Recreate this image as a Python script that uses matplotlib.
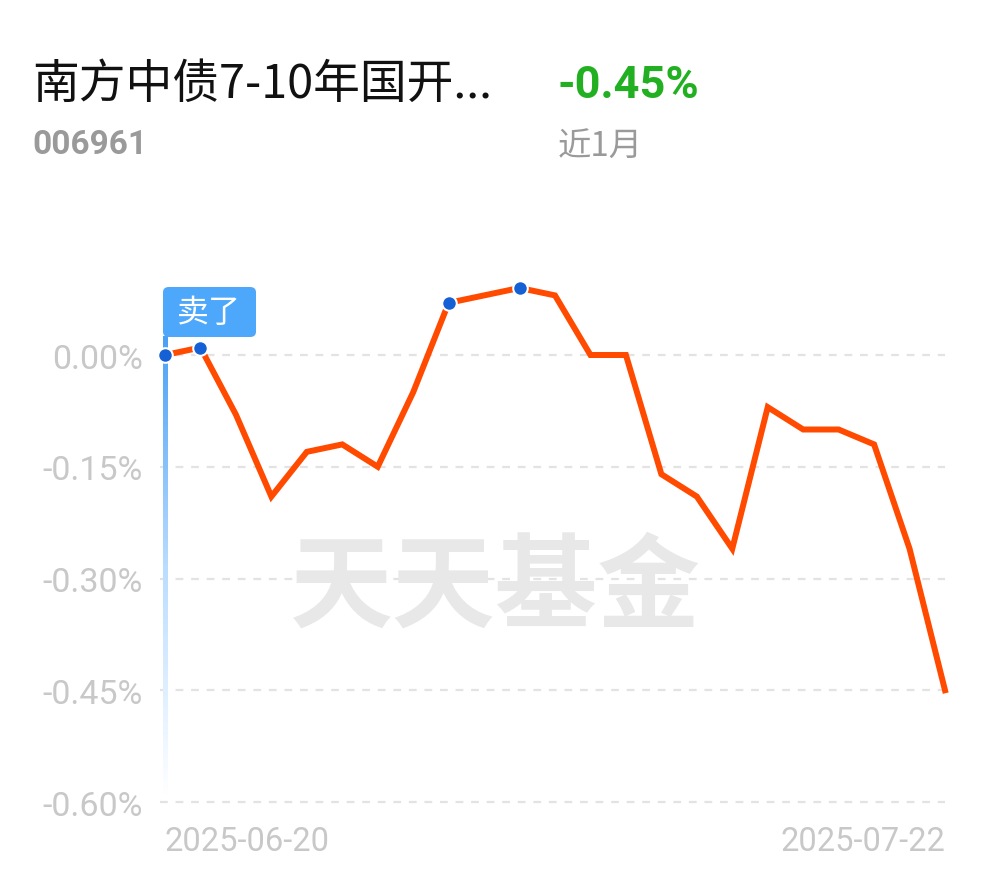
import numpy as np
import matplotlib.pyplot as plt
from matplotlib.patches import FancyBboxPatch
from matplotlib.colors import LinearSegmentedColormap

plt.rcParams['font.family'] = ['Roboto', 'Noto Sans CJK SC', 'DejaVu Sans']

dates = ['2025-06-20', '2025-06-23', '2025-06-24', '2025-06-25', '2025-06-26',
         '2025-06-27', '2025-06-30', '2025-07-01', '2025-07-02', '2025-07-03',
         '2025-07-04', '2025-07-07', '2025-07-08', '2025-07-09', '2025-07-10',
         '2025-07-11', '2025-07-14', '2025-07-15', '2025-07-16', '2025-07-17',
         '2025-07-18', '2025-07-21', '2025-07-22']
returns = [0.00, 0.01, -0.08, -0.19, -0.13, -0.12, -0.15, -0.05, 0.07, 0.08,
           0.09, 0.08, 0.00, 0.00, -0.16, -0.19, -0.26, -0.07, -0.10, -0.10,
           -0.12, -0.26, -0.45]
dot_idx = [0, 1, 8, 10]
yticks = [0.00, -0.15, -0.30, -0.45, -0.60]
fund_name = '南方中债7-10年国开...'
fund_code = '006961'
period_ret = '-0.45%'
period = '近1月'
sell_idx = 0

W, H = 990, 878
fig = plt.figure(figsize=(W / 100, H / 100), dpi=100)
ytop = 0.12
ax = fig.add_axes([165 / W, (H - 803) / H, 780 / W, (803 - 266.6) / H])
x = np.arange(len(returns))
ax.set_xlim(0, len(returns) - 1)
ax.set_ylim(-0.60, ytop)
for s in ax.spines.values():
    s.set_visible(False)

for t in yticks:
    ax.plot([-0.15, len(returns) - 1], [t, t], color='#e3e3e3', lw=1.6,
            dashes=(3.5, 3.5), zorder=1, clip_on=False)
ax.set_yticks(yticks)
ax.set_yticklabels(['%.2f%%' % t for t in yticks], color='#c8c8c8', fontsize=24.5)
ax.tick_params(axis='y', length=0, pad=16)
ax.set_xticks([])

# watermark
fig.text(0.5, (H - 589) / H, '天天基金', ha='center', va='center',
         fontsize=74, fontweight='bold', color='#e8e8e8',
         family=['Noto Sans CJK SC'], zorder=0)

# gradient bar at sell point
cmap = LinearSegmentedColormap.from_list('g', ['#ffffff', '#b9dcff', '#4aa0f5'])
grad = np.linspace(0, 1, 256).reshape(-1, 1)
ax.imshow(grad, cmap=cmap, origin='lower', aspect='auto',
          extent=[sell_idx - 0.07, sell_idx + 0.07, -0.59, 0.025],
          zorder=2, clip_on=False)

ax.plot(x, returns, color='#ff4a00', lw=4.3, zorder=3, solid_joinstyle='miter',
        clip_on=False)
ax.scatter(x[dot_idx], np.array(returns)[dot_idx], s=110, color='#1560d4',
           edgecolors='white', linewidths=1.5, zorder=4, clip_on=False)

# sell label box
box = FancyBboxPatch((163 / W, (H - 338) / H), 93 / W, 50 / H,
                     boxstyle='round,pad=0,rounding_size=0.006',
                     transform=fig.transFigure, facecolor='#4da8fb',
                     edgecolor='none', zorder=5)
fig.patches.append(box)
fig.text(209 / W, (H - 313) / H, '卖了', ha='center', va='center',
         fontsize=23, color='white', family=['Noto Sans CJK SC'], zorder=6)

# date labels
fig.text(165 / W, (H - 842) / H, dates[0], ha='left', va='center',
         fontsize=23.5, color='#c8c8c8')
fig.text(945 / W, (H - 842) / H, dates[-1], ha='right', va='center',
         fontsize=23.5, color='#c8c8c8')

# header
fig.text(32 / W, (H - 85) / H, fund_name, ha='left', va='center', fontsize=33.7,
         color='#111111', family=['Noto Sans CJK SC', 'DejaVu Sans'])
fig.text(32 / W, (H - 145) / H, fund_code, ha='left', va='center', fontsize=24,
         fontweight='bold', color='#9a9a9a')
fig.text(558 / W, (H - 86) / H, period_ret, ha='left', va='center', fontsize=32.5,
         fontweight='bold', color='#22b022')
fig.text(558 / W, (H - 147) / H, period, ha='left', va='center', fontsize=24,
         color='#9a9a9a', family=['Noto Sans CJK SC'])

fig.savefig('out.png', dpi=100)
